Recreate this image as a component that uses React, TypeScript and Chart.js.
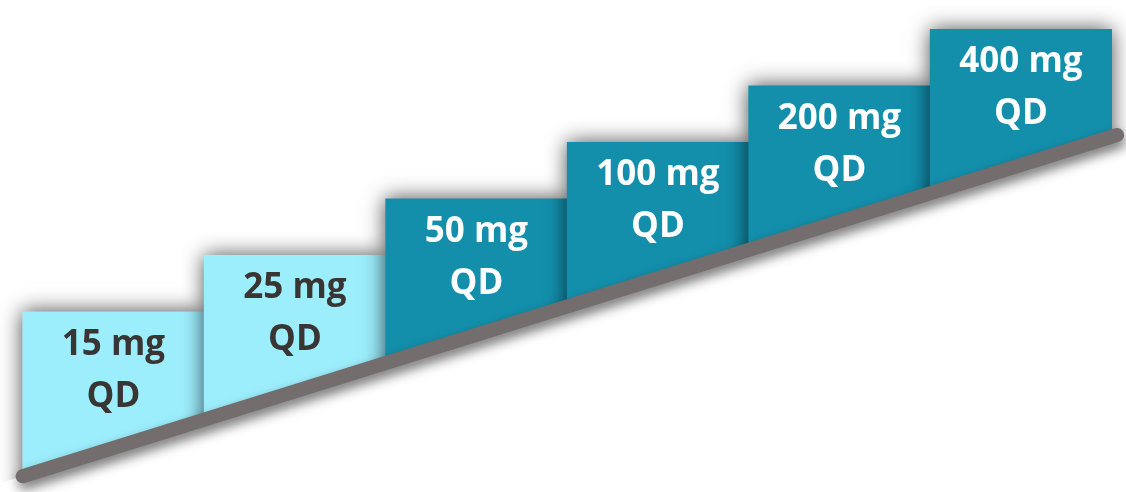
import { useEffect, useRef } from 'react';
import { Chart, registerables } from 'chart.js';

Chart.register(...registerables);

// ---- data ----
const doses = ['15 mg', '25 mg', '50 mg', '100 mg', '200 mg', '400 mg'];
const regimen = ['QD', 'QD', 'QD', 'QD', 'QD', 'QD'];
const stepLevels = [1, 2, 3, 4, 5, 6];
const stepPhase = ['low', 'low', 'high', 'high', 'high', 'high'];
const baselineX = [0, 6.03];
const baselineY = [-1.913, 4.127];

// ---- axis ranges ----
const X_MIN = -0.125;
const X_MAX = 6.079;
const Y_MIN = -2.191;
const Y_MAX = 6.517;

const phaseFill: Record<string, string> = { low: '#9DEEFD', high: '#138FAC' };
const phaseText: Record<string, string> = { low: '#383533', high: '#FFFFFF' };

const stairPlugin = {
  id: 'stair',
  beforeDatasetDraw(chart: any, args: any) {
    const ctx = chart.ctx;
    ctx.save();
    if (args.meta.type === 'bar') {
      const xs = chart.scales.x;
      const ys = chart.scales.y;
      const x0 = xs.getPixelForValue(baselineX[0]);
      const y0 = ys.getPixelForValue(baselineY[0]);
      const x1 = xs.getPixelForValue(baselineX[1]);
      const y1 = ys.getPixelForValue(baselineY[1]);
      const m = (y1 - y0) / (x1 - x0);
      const L = -200;
      const R = chart.width + 200;
      ctx.beginPath();
      ctx.moveTo(L, y0 + m * (L - x0));
      ctx.lineTo(R, y0 + m * (R - x0));
      ctx.lineTo(R, -200);
      ctx.lineTo(L, -200);
      ctx.closePath();
      ctx.clip();
      ctx.shadowColor = 'rgba(0,0,0,0.7)';
      ctx.shadowBlur = 20;
      ctx.shadowOffsetX = 0;
      ctx.shadowOffsetY = 0;
    } else {
      ctx.shadowColor = 'rgba(0,0,0,0.55)';
      ctx.shadowBlur = 12;
      ctx.shadowOffsetX = 2;
      ctx.shadowOffsetY = 6;
    }
  },
  afterDatasetDraw(chart: any) {
    chart.ctx.restore();
  },
  afterDatasetsDraw(chart: any) {
    const ctx = chart.ctx;
    const ys = chart.scales.y;
    let barIdx = -1;
    chart.data.datasets.forEach((_d: any, i: number) => {
      if (chart.getDatasetMeta(i).type === 'bar') barIdx = i;
    });
    if (barIdx < 0) return;
    const meta = chart.getDatasetMeta(barIdx);
    ctx.save();
    ctx.font = 'bold 35px "Open Sans"';
    ctx.textAlign = 'center';
    ctx.textBaseline = 'alphabetic';
    meta.data.forEach((el: any, i: number) => {
      const top = ys.getPixelForValue(stepLevels[i]);
      ctx.fillStyle = phaseText[stepPhase[i]];
      ctx.fillText(doses[i], el.x, top + 43);
      ctx.fillText(regimen[i], el.x, top + 95);
    });
    ctx.restore();
  },
};

export default function App() {
  const ref = useRef<HTMLCanvasElement | null>(null);
  useEffect(() => {
    if (!ref.current) return;
    const chart = new Chart(ref.current, {
      type: 'bar',
      data: {
        datasets: [
          {
            type: 'line',
            data: baselineX.map((x, i) => ({ x, y: baselineY[i] })),
            borderColor: '#736e6d',
            borderWidth: 14,
            borderCapStyle: 'round',
            pointRadius: 0,
            fill: false,
            tension: 0,
            clip: false,
            order: 0,
          } as any,
          {
            type: 'bar',
            data: stepLevels.map((lv, i) => ({ x: i + 0.5, y: [Y_MIN, lv] })),
            backgroundColor: stepPhase.map((p) => phaseFill[p]),
            borderWidth: 0,
            barPercentage: 1,
            categoryPercentage: 1,
            clip: false,
            order: 1,
          } as any,
        ],
      },
      options: {
        animation: false,
        responsive: false,
        events: [],
        layout: { padding: 0 },
        plugins: { legend: { display: false }, tooltip: { enabled: false } },
        scales: {
          x: {
            type: 'linear',
            min: X_MIN,
            max: X_MAX,
            offset: false,
            display: false,
            grid: { offset: false },
            ticks: { stepSize: 1, includeBounds: false },
          },
          y: { type: 'linear', min: Y_MIN, max: Y_MAX, display: false },
        },
      } as any,
      plugins: [stairPlugin],
    });
    return () => chart.destroy();
  }, []);
  return (
    <div style={{ position: 'absolute', left: 0, top: 0, width: 1126, height: 492, background: '#fff' }}>
      <canvas ref={ref} width={1126} height={492} style={{ display: 'block' }} />
    </div>
  );
}
